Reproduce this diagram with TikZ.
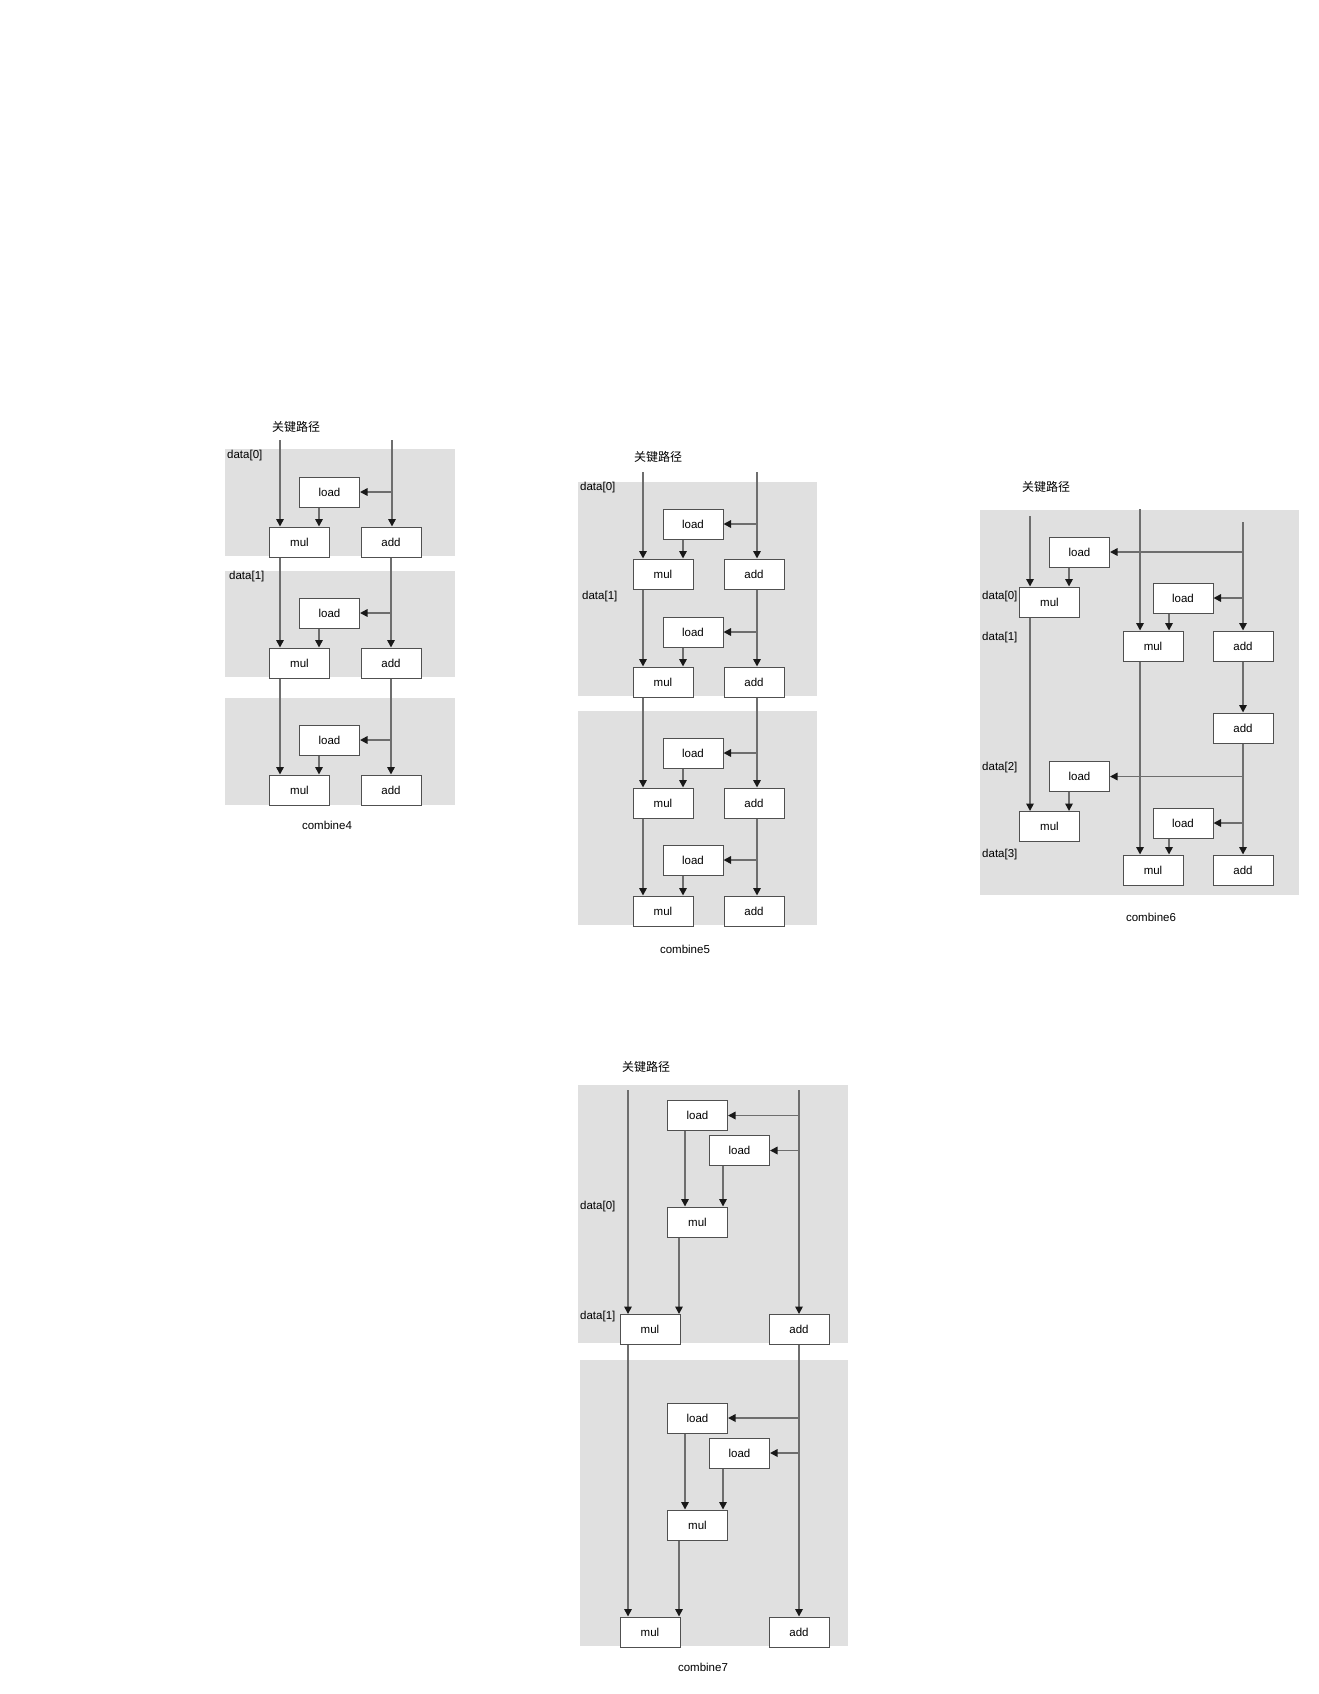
\documentclass[tikz,border=0pt]{standalone}
\usepackage{fontspec}
\setmainfont{Liberation Sans}
\newfontfamily\cjk{Noto Sans CJK SC}
\usetikzlibrary{arrows.meta}
\definecolor{panelgray}{RGB}{224,224,224}
\definecolor{linegray}{RGB}{110,110,110}
\definecolor{boxline}{RGB}{80,80,80}
\tikzset{
  panel/.style={fill=panelgray, draw=none},
  opbox/.style={draw=boxline, line width=1pt, fill=white, minimum width=60pt, minimum height=30pt, inner sep=0pt, font=\fontsize{11.5}{13}\selectfont},
  conn/.style={draw=linegray, line width=1.6pt, -{Triangle[length=7.5pt,width=7.5pt,color=black!90]}},
  lbl/.style={font=\fontsize{11.5}{13}\selectfont, inner sep=0pt},
  dlbl/.style={font=\fontsize{11.5}{13}\selectfont, inner sep=0pt, anchor=west},
  cn/.style={font=\cjk\fontsize{12}{14}\selectfont, inner sep=0pt}
}
\begin{document}
\begin{tikzpicture}[x=1pt,y=-1pt]
\useasboundingbox (0,0) rectangle (1319,1694);

% ================= combine4 =================
\fill[panel] (225,449) rectangle (455,556);
\fill[panel] (225,571) rectangle (455,677);
\fill[panel] (225,698) rectangle (455,805);
\node[cn] (c4t) at (296,427) {关键路径};
\node[dlbl] (c4d0) at (227,456) {data[0]};
\node[dlbl] (c4d1) at (229,577) {data[1]};
\node[opbox] (c4l1) at (329.5,492) {load};
\node[opbox] (c4m1) at (299.5,542) {mul};
\node[opbox] (c4a1) at (391,542) {add};
\node[opbox] (c4l2) at (329.5,613) {load};
\node[opbox] (c4m2) at (299.5,663) {mul};
\node[opbox] (c4a2) at (391,663) {add};
\node[opbox] (c4l3) at (329.5,740) {load};
\node[opbox] (c4m3) at (299.5,790) {mul};
\node[opbox] (c4a3) at (391,790) {add};
\node[lbl] (c4cap) at (327,825) {combine4};
\coordinate (c4L) at (280,440);
\coordinate (c4R) at (392,440);
\draw[conn] (c4L) -- (c4L |- c4m1.north);
\draw[conn] (c4R) -- (c4R |- c4a1.north);
\draw[conn] (c4m1.south -| c4L) -- (c4m2.north -| c4L);
\draw[conn] (c4m2.south -| c4L) -- (c4m3.north -| c4L);
\draw[conn] (c4a1.south) -- (c4a2.north);
\draw[conn] (c4a2.south) -- (c4a3.north);
\foreach \i in {1,2,3}{
  \draw[conn] (c4l\i.east -| c4a\i.north) -- (c4l\i.east);
  \draw[conn] ([xshift=-10.5pt]c4l\i.south) -- ([xshift=-10.5pt]c4l\i.south |- c4m\i.north);
}

% ================= combine5 =================
\fill[panel] (578,482) rectangle (817,696);
\fill[panel] (578,711) rectangle (817,925);
\node[cn] (c5t) at (658,457) {关键路径};
\node[dlbl] (c5d0) at (580,488) {data[0]};
\node[dlbl] (c5d1) at (582,597) {data[1]};
\node[opbox] (c5l1) at (693,524) {load};
\node[opbox] (c5m1) at (663,574) {mul};
\node[opbox] (c5a1) at (754,574) {add};
\node[opbox] (c5l2) at (693,632) {load};
\node[opbox] (c5m2) at (663,682) {mul};
\node[opbox] (c5a2) at (754,682) {add};
\node[opbox] (c5l3) at (693,753) {load};
\node[opbox] (c5m3) at (663,803) {mul};
\node[opbox] (c5a3) at (754,803) {add};
\node[opbox] (c5l4) at (693,860) {load};
\node[opbox] (c5m4) at (663,911) {mul};
\node[opbox] (c5a4) at (754,911) {add};
\node[lbl] (c5cap) at (685,949) {combine5};
\coordinate (c5L) at (643,472);
\coordinate (c5R) at (757,472);
\draw[conn] (c5L) -- (c5L |- c5m1.north);
\draw[conn] (c5R) -- (c5R |- c5a1.north);
\foreach \i/\j in {1/2,2/3,3/4}{
  \draw[conn] (c5m\i.south -| c5L) -- (c5m\j.north -| c5L);
  \draw[conn] (c5a\i.south -| c5R) -- (c5a\j.north -| c5R);
}
\foreach \i in {1,2,3,4}{
  \draw[conn] (c5l\i.east -| c5R) -- (c5l\i.east);
  \draw[conn] ([xshift=-10pt]c5l\i.south) -- ([xshift=-10pt]c5l\i.south |- c5m\i.north);
}

% ================= combine6 =================
\fill[panel] (980,510) rectangle (1299,895);
\node[cn] (c6t) at (1046,487) {关键路径};
\node[dlbl] (c6d0) at (982,597) {data[0]};
\node[dlbl] (c6d1) at (982,638) {data[1]};
\node[dlbl] (c6d2) at (982,768) {data[2]};
\node[dlbl] (c6d3) at (982,855) {data[3]};
\node[opbox] (c6lA1) at (1079.5,552) {load};
\node[opbox] (c6mA1) at (1049.5,602) {mul};
\node[opbox] (c6lA2) at (1079.5,776.5) {load};
\node[opbox] (c6mA2) at (1049.5,826.5) {mul};
\node[opbox] (c6lB1) at (1183,598) {load};
\node[opbox] (c6mB1) at (1153,646) {mul};
\node[opbox] (c6aB1) at (1243,646) {add};
\node[opbox] (c6aB2) at (1243,728) {add};
\node[opbox] (c6lB2) at (1183,823) {load};
\node[opbox] (c6mB2) at (1153,870) {mul};
\node[opbox] (c6aB3) at (1243,870) {add};
\node[lbl] (c6cap) at (1151,917) {combine6};
\coordinate (c6A) at (1030,516);
\coordinate (c6B) at (1140,509);
\coordinate (c6C) at (1243,522);
\draw[conn] (c6B) -- (c6B |- c6mB1.north);
\draw[conn] (c6mB1.south -| c6B) -- (c6mB2.north -| c6B);
\draw[conn] (c6A) -- (c6A |- c6mA1.north);
\draw[conn] (c6mA1.south -| c6A) -- (c6mA2.north -| c6A);
\draw[conn] (c6C) -- (c6aB1.north);
\draw[conn] (c6aB1.south) -- (c6aB2.north);
\draw[conn] (c6aB2.south) -- (c6aB3.north);
\draw[conn] (c6lA1.east -| c6C) -- (c6lA1.east);
\draw[conn] (c6lB1.east -| c6C) -- (c6lB1.east);
\draw[conn] (c6lA2.east -| c6C) -- (c6lA2.east);
\draw[conn] (c6lB2.east -| c6C) -- (c6lB2.east);
\draw[conn] ([xshift=-10.5pt]c6lA1.south) -- ([xshift=-10.5pt]c6lA1.south |- c6mA1.north);
\draw[conn] ([xshift=-10.5pt]c6lA2.south) -- ([xshift=-10.5pt]c6lA2.south |- c6mA2.north);
\draw[conn] ([xshift=-14pt]c6lB1.south) -- ([xshift=-14pt]c6lB1.south |- c6mB1.north);
\draw[conn] ([xshift=-14pt]c6lB2.south) -- ([xshift=-14pt]c6lB2.south |- c6mB2.north);

% ================= combine7 =================
\fill[panel] (578,1085) rectangle (848,1343);
\fill[panel] (580,1360) rectangle (848,1646);
\node[cn] (c7t) at (646,1067) {关键路径};
\node[dlbl] (c7d0) at (580,1207) {data[0]};
\node[dlbl] (c7d1) at (580,1317) {data[1]};
\node[opbox] (c7l1) at (697.5,1115.5) {load};
\node[opbox] (c7l2) at (739.5,1150.5) {load};
\node[opbox] (c7m1) at (697.5,1222) {mul};
\node[opbox] (c7mB1) at (650,1329.5) {mul};
\node[opbox] (c7a1) at (799,1329.5) {add};
\node[opbox] (c7l3) at (697.5,1418) {load};
\node[opbox] (c7l4) at (739.5,1453) {load};
\node[opbox] (c7m2) at (697.5,1525) {mul};
\node[opbox] (c7mB2) at (650,1632) {mul};
\node[opbox] (c7a2) at (799,1632) {add};
\node[lbl] (c7cap) at (703,1667) {combine7};
\coordinate (c7L) at (628,1090);
\coordinate (c7R) at (799,1090);
\draw[conn] (c7L) -- (c7L |- c7mB1.north);
\draw[conn] (c7R) -- (c7a1.north);
\draw[conn] (c7mB1.south -| c7L) -- (c7mB2.north -| c7L);
\draw[conn] (c7a1.south) -- (c7a2.north);
\draw[conn] (c7l1.east -| c7R) -- (c7l1.east);
\draw[conn] (c7l2.east -| c7R) -- (c7l2.east);
\draw[conn] (c7l3.east -| c7R) -- (c7l3.east);
\draw[conn] (c7l4.east -| c7R) -- (c7l4.east);
\draw[conn] ([xshift=-12.5pt]c7l1.south) -- ([xshift=-12.5pt]c7l1.south |- c7m1.north);
\draw[conn] ([xshift=-16.5pt]c7l2.south) -- ([xshift=-16.5pt]c7l2.south |- c7m1.north);
\draw[conn] ([xshift=-18.5pt]c7m1.south) -- ([xshift=-18.5pt]c7m1.south |- c7mB1.north);
\draw[conn] ([xshift=-12.5pt]c7l3.south) -- ([xshift=-12.5pt]c7l3.south |- c7m2.north);
\draw[conn] ([xshift=-16.5pt]c7l4.south) -- ([xshift=-16.5pt]c7l4.south |- c7m2.north);
\draw[conn] ([xshift=-18.5pt]c7m2.south) -- ([xshift=-18.5pt]c7m2.south |- c7mB2.north);
\end{tikzpicture}
\end{document}
